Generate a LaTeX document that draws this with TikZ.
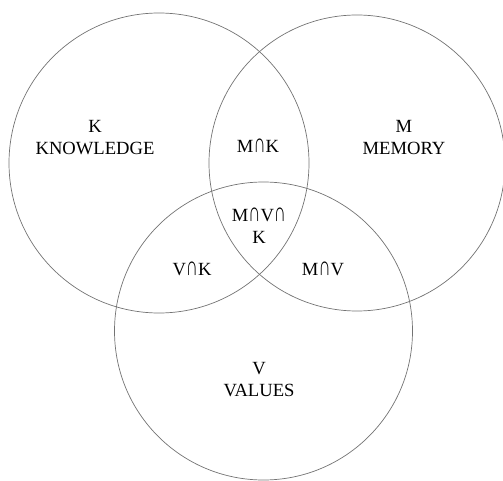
\documentclass[tikz,border=0pt]{standalone}
\usepackage{fontspec}
\usepackage{graphicx}
\setmainfont{Liberation Serif}
\newcommand{\inter}{\scalebox{0.9}[1.45]{∩}}
\begin{document}
\begin{tikzpicture}[x=1pt,y=-1pt,
  setc/.style={circle, draw=black!55, line width=0.7pt, inner sep=0pt, minimum size=300pt},
  lbl/.style={align=center, inner sep=0pt, font=\fontsize{18.6}{22}\selectfont}]
\useasboundingbox (0,0) rectangle (503,481);
\node[setc] (CK) at (159,163) {};
\node[setc, minimum size=296pt] (CM) at (357,163) {};
\node[setc, minimum size=298pt] (CV) at (263.5,331) {};
\node[lbl] (K) at (95,138) {K\\KNOWLEDGE};
\node[lbl] (M) at (404,138) {M\\MEMORY};
\node[lbl] (MK) at (258,146) {M\inter K};
\node[lbl] (MVK) at (259,226) {M\inter V\inter\\K};
\node[lbl] (VK) at (192,269) {V\inter K};
\node[lbl] (MV) at (323,269) {M\inter V};
\node[lbl] (V) at (259,380) {V\\VALUES};
\end{tikzpicture}
\end{document}
